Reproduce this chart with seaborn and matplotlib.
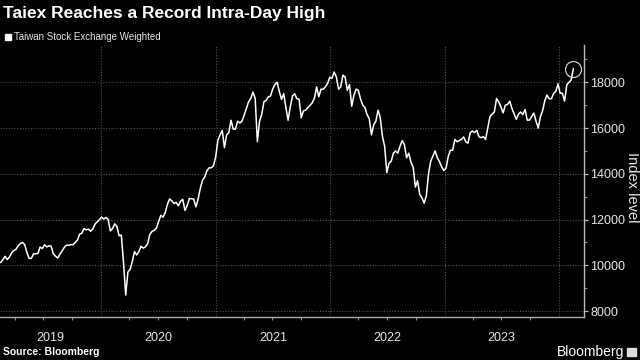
import matplotlib
matplotlib.use("Agg")
import matplotlib.pyplot as plt
import matplotlib.dates as mdates
import matplotlib.ticker as mticker
import seaborn as sns
import pandas as pd

# weekly (Friday) closes of the Taiex
first_friday = "2019-02-15"
taiex_2019 = [10120, 10240,
              10390, 10250, 10360, 10540, 10640,
              10700, 10850, 10950, 11000,
              10900, 10550, 10300, 10300, 10500,
              10500, 10520, 10800, 10730,
              10900, 10800, 10850, 10840,
              10500, 10400, 10320, 10480, 10620,
              10780, 10880, 10870, 10900,
              10900, 11000, 11100, 11360,
              11400, 11600, 11550, 11580, 11490,
              11590, 11800, 11900, 11990]
taiex_2020 = [12110, 12020, 12090, 12000, 11500,
              11610, 11810, 11690, 11290,
              11320, 10130, 8700, 9700,
              9820, 10160, 10600, 10450,
              10600, 10830, 10750, 10810, 10940,
              11350, 11480, 11530, 11620,
              11910, 12180, 12100, 12300, 12660,
              12900, 12820, 12700, 12750,
              12600, 12800, 12880, 12400,
              12600, 12920, 12910, 12890, 12550,
              12900, 13360, 13720, 13850,
              14130, 14260, 14260, 14350]
taiex_2021 = [14730, 15460, 15700, 15900, 15140,
              15700, 15800, 16340, 15950,
              15950, 16300, 16220, 16300,
              16570, 16850, 17150, 17300, 17570,
              17300, 15400, 16300, 16600,
              17150, 17210, 17360, 17400,
              17710, 17900, 18000, 17600, 17250,
              17500, 16900, 16340, 16930,
              17400, 17500, 17280, 17260,
              16450, 16750, 16780, 16890, 16990,
              17100, 17300, 17800, 17370,
              17700, 17700, 17800, 17950, 18220]
taiex_2022 = [18170, 18450, 18230, 17700,
              17800, 18310, 18230, 17650,
              17900, 16950, 17430, 17700,
              17650, 17280, 17000, 16900, 16590,
              16400, 15700, 16140, 16300,
              16780, 16460, 15640, 15200,
              14050, 14460, 14550, 14900, 15000,
              14900, 15200, 15450, 15280,
              14700, 14900, 14500, 14300, 13420,
              13700, 13100, 12950, 12720,
              13030, 14000, 14550, 14780,
              15000, 14700, 14530, 14300, 14140]
taiex_2023 = [14250, 14760, 15030, 15030,
              15500, 15400, 15450, 15500,
              15610, 15400, 15340, 15800, 15870,
              15800, 15900, 15620, 15580,
              15620, 15500, 16000, 16500,
              16610, 16700, 17290, 17140, 16920,
              16660, 17000, 17030, 17170,
              16860, 16620, 16380, 16610,
              16700, 16590, 16810, 16340, 16350,
              16500, 16650, 16300, 16000,
              16500, 16760, 17200, 17440,
              17280, 17280, 17510, 17600, 17930]
taiex_2024 = [17520, 17520, 17180, 17880, 18000, 18100, 18600]

years = ["2019", "2020", "2021", "2022", "2023"]
y_ticks = [8000, 10000, 12000, 14000, 16000, 18000]

values = taiex_2019 + taiex_2020 + taiex_2021 + taiex_2022 + taiex_2023 + taiex_2024
dates = pd.date_range(first_friday, periods=len(values), freq="W-FRI")
df = pd.DataFrame({"date": dates, "value": values})

sns.set_style("dark", {"axes.facecolor": "black", "figure.facecolor": "black"})
plt.rcParams["font.family"] = ["Liberation Sans", "DejaVu Sans"]

fig = plt.figure(figsize=(6.4, 3.6), dpi=100)
ax = fig.add_axes([0, 0.1194, 0.9125, 0.7556])
ax.set_facecolor("black")

sns.lineplot(data=df, x="date", y="value", ax=ax, color="white", lw=1.1)
last = df.iloc[-1]
ax.plot([last["date"]], [last["value"]], marker="o", ms=11.5, mfc="none",
        mec="#dddddd", mew=0.8, clip_on=False)

x_left, x_right = pd.Timestamp("2019-02-13"), pd.Timestamp("2024-03-21")
ax.set_xlim(x_left, x_right)
ax.set_ylim(7738, 19630)

# axes and grid
ax.set_yticks(y_ticks)
ax.yaxis.set_minor_locator(mticker.MultipleLocator(1000))
ax.yaxis.tick_right()
ax.yaxis.set_major_formatter(mticker.FuncFormatter(lambda v, p: f"{int(v)}"))
ax.tick_params(axis="y", which="major", length=3, width=0.9, color="#bbbbbb",
               labelcolor="#e6e6e6", labelsize=9, pad=1.5)
ax.tick_params(axis="y", which="minor", length=2, width=0.8, color="#888888", right=True)

ax.xaxis.set_major_locator(mdates.YearLocator())
ax.xaxis.set_minor_locator(mdates.MonthLocator(bymonth=[4, 7, 10]))
ax.xaxis.set_major_formatter(mticker.NullFormatter())
ax.tick_params(axis="x", which="major", length=19, width=0.8, color="#555555", direction="out")
ax.tick_params(axis="x", which="minor", length=2.5, width=0.8, color="#888888", bottom=True)

ax.grid(True, which="major", color="#505050", lw=0.8, ls=(0, (1, 1.5)))

for s in ["top", "left"]:
    ax.spines[s].set_visible(False)
ax.spines["right"].set_color("#bbbbbb")
ax.spines["bottom"].set_color("#aaaaaa")
ax.spines["right"].set_linewidth(1)
ax.spines["bottom"].set_linewidth(1)
ax.set_xlabel("")
ax.set_ylabel("")

# year labels centred in the visible part of each year
for yr in years:
    a = max(pd.Timestamp(f"{yr}-01-01"), x_left)
    b = min(pd.Timestamp(f"{int(yr) + 1}-01-01"), x_right)
    mid = a + (b - a) / 2
    ax.text(mid, -0.077, yr, transform=ax.get_xaxis_transform(), ha="center",
            va="center", color="#e6e6e6", fontsize=9)

fig.text(0.988, 0.48, "Index level", rotation=270, color="#e6e6e6", fontsize=10.5,
         ha="center", va="center")
fig.text(0.005, 0.962, "Taiex Reaches a Record Intra-Day High", color="white",
         fontsize=12.5, fontweight="bold", ha="left", va="center")
fig.patches.append(plt.Rectangle((0.008, 0.888), 0.0095, 0.017, transform=fig.transFigure,
                                 color="white", figure=fig))
fig.text(0.022, 0.897, "Taiwan Stock Exchange Weighted", color="#e6e6e6",
         fontsize=7, ha="left", va="center")
fig.text(0.005, 0.022, "Source: Bloomberg", color="white", fontsize=7.5,
         fontweight="bold", ha="left", va="center")
fig.text(0.975, 0.022, "Bloomberg", color="white", fontsize=10, ha="right", va="center")
fig.patches.append(plt.Rectangle((0.980, 0.010), 0.013, 0.024, transform=fig.transFigure,
                                 color="#dddddd", figure=fig))

fig.savefig("out.png", dpi=100, facecolor="black")
